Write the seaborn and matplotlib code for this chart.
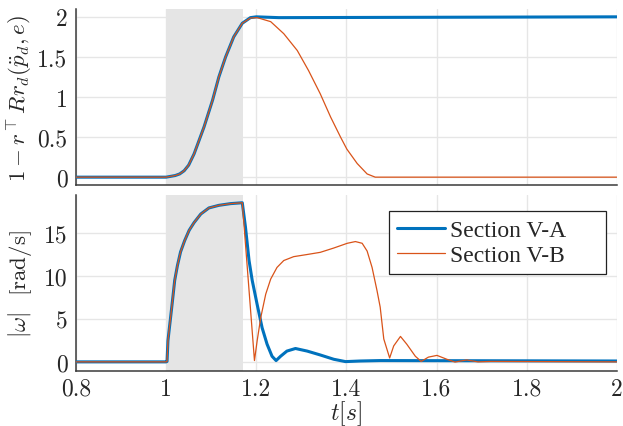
import numpy as np
import pandas as pd
import matplotlib as mpl
from matplotlib import pyplot as plt
import seaborn as sns

# Data
# top panel: 1 - r^T R r_d
top_a_t = [0.8, 1.0, 1.02, 1.03, 1.04, 1.05, 1.062, 1.084, 1.103, 1.117, 1.132, 1.150,
           1.169, 1.187, 1.20, 1.25, 2.0]
top_a_v = [0.0, 0.0, 0.02, 0.04, 0.08, 0.15, 0.29, 0.625, 0.96, 1.25, 1.5, 1.75,
           1.92, 1.99, 2.0, 1.99, 2.0]
top_b_t = [0.8, 1.0, 1.02, 1.03, 1.04, 1.05, 1.062, 1.084, 1.103, 1.117, 1.132, 1.150,
           1.169, 1.187, 1.202, 1.232, 1.261, 1.291, 1.316, 1.342, 1.365, 1.387, 1.401,
           1.424, 1.446, 1.464, 1.48, 2.0]
top_b_v = [0.0, 0.0, 0.02, 0.04, 0.08, 0.15, 0.29, 0.625, 0.96, 1.25, 1.5, 1.75,
           1.92, 1.985, 1.99, 1.94, 1.79, 1.58, 1.33, 1.04, 0.75, 0.5, 0.35,
           0.17, 0.04, 0.0, 0.0, 0.0]

# bottom panel: |omega| [rad/s]
bot_a_t = [0.8, 1.0, 1.002, 1.004, 1.009, 1.014, 1.019, 1.025, 1.032, 1.041, 1.051, 1.062,
           1.077, 1.095, 1.117, 1.143, 1.169, 1.176, 1.184, 1.191, 1.202, 1.213, 1.224,
           1.235, 1.244, 1.254, 1.268, 1.287, 1.313, 1.342, 1.372, 1.398, 1.431, 1.475, 2.0]
bot_a_v = [0.05, 0.05, 0.1, 2.5, 4.8, 7.1, 9.5, 11.2, 12.8, 14.1, 15.3, 16.2,
           17.2, 17.9, 18.2, 18.4, 18.5, 15.7, 11.8, 9.5, 6.7, 4.0, 2.1,
           0.7, 0.2, 0.7, 1.3, 1.6, 1.3, 0.85, 0.35, 0.08, 0.15, 0.2, 0.15]
bot_b_t = [0.8, 1.0, 1.002, 1.004, 1.009, 1.014, 1.019, 1.025, 1.032, 1.041, 1.051, 1.062,
           1.077, 1.095, 1.117, 1.143, 1.169, 1.196, 1.202, 1.210, 1.221, 1.232, 1.246,
           1.261, 1.283, 1.313, 1.342, 1.372, 1.402, 1.420, 1.435, 1.446, 1.457, 1.468,
           1.475, 1.483, 1.496, 1.505, 1.520, 1.534, 1.553, 1.566, 1.582, 1.601, 1.623,
           1.641, 1.667, 1.692, 1.72, 2.0]
bot_b_v = [0.05, 0.05, 0.1, 2.5, 4.8, 7.1, 9.5, 11.2, 12.8, 14.1, 15.3, 16.2,
           17.2, 17.9, 18.2, 18.4, 18.5, 0.2, 2.5, 5.2, 7.9, 9.65, 11.0,
           11.8, 12.25, 12.5, 12.75, 13.25, 13.8, 14.0, 13.8, 12.9, 11.0, 8.3,
           6.4, 2.7, 0.5, 1.9, 3.0, 2.1, 0.7, 0.1, 0.6, 0.8, 0.35,
           0.03, 0.27, 0.05, 0.1, 0.05]

shade_span = [1.0, 1.17]
series_names = ['Section V-A', 'Section V-B']

x_ticks = [0.8, 1.0, 1.2, 1.4, 1.6, 1.8, 2.0]
x_ticklabels = ['0.8', '1', '1.2', '1.4', '1.6', '1.8', '2']
top_yticks = [0, 0.5, 1, 1.5, 2]
top_yticklabels = ['0', '0.5', '1', '1.5', '2']
bot_yticks = [0, 5, 10, 15]
bot_yticklabels = ['0', '5', '10', '15']

# Style
sns.set_style('white')
mpl.rc('font', family='serif', size=17)
mpl.rcParams['font.serif'] = ['cmr10', 'DejaVu Serif']
mpl.rcParams['mathtext.fontset'] = 'cm'
mpl.rcParams['axes.formatter.use_mathtext'] = True

blue = '#0072BD'
orange = '#D95319'
grid_col = '#e6e6e6'
spine_col = '#3a3a3a'

fig = plt.figure(figsize=(6.23, 4.27), dpi=100)
ax_top = fig.add_axes([0.122, 0.564, 0.868, 0.413])
ax_bot = fig.add_axes([0.122, 0.129, 0.868, 0.412])


def style_axis(ax, yticks, yticklabels, ylim, show_xlabels):
    ax.set_xlim(0.8, 2.0)
    ax.set_ylim(*ylim)
    ax.set_xticks(x_ticks)
    if show_xlabels:
        ax.set_xticklabels(x_ticklabels)
    else:
        ax.set_xticklabels([])
    ax.set_yticks(yticks)
    ax.set_yticklabels(yticklabels)
    ax.set_axisbelow(True)
    ax.grid(True, color=grid_col, linewidth=1.0)
    for side in ['top', 'right']:
        ax.spines[side].set_visible(False)
    for side in ['left', 'bottom']:
        ax.spines[side].set_color(spine_col)
        ax.spines[side].set_linewidth(1.1)
    ax.tick_params(axis='x', direction='in', length=4, width=1.0, color=spine_col, pad=5, labelsize=17)
    ax.tick_params(axis='y', length=0, pad=6, labelsize=17)
    ax.axvspan(shade_span[0], shade_span[1], color='#e5e5e5', zorder=1, linewidth=0)


style_axis(ax_top, top_yticks, top_yticklabels, (-0.1, 2.1), False)
style_axis(ax_bot, bot_yticks, bot_yticklabels, (-1.0, 19.4), True)

sns.lineplot(x=top_a_t, y=top_a_v, ax=ax_top, color=blue, linewidth=2.2,
             sort=False, estimator=None, zorder=3)
sns.lineplot(x=top_b_t, y=top_b_v, ax=ax_top, color=orange, linewidth=0.9,
             sort=False, estimator=None, zorder=4)
sns.lineplot(x=bot_a_t, y=bot_a_v, ax=ax_bot, color=blue, linewidth=2.2,
             sort=False, estimator=None, zorder=3, label=series_names[0])
sns.lineplot(x=bot_b_t, y=bot_b_v, ax=ax_bot, color=orange, linewidth=0.9,
             sort=False, estimator=None, zorder=4, label=series_names[1])

ax_top.set_ylabel(r'$1-r^\top Rr_d(\ddot{p}_d,e)$', fontsize=16.5)
ax_bot.set_ylabel(r'$|\omega|$  [rad/s]', fontsize=16.5)
ax_top.yaxis.set_label_coords(-0.078, 0.5)
ax_bot.yaxis.set_label_coords(-0.078, 0.5)
ax_bot.set_xlabel(r'$t[s]$', fontsize=17, labelpad=-1)

# legend box spans a fixed width, handles on the left
leg = ax_bot.legend(loc='upper left', bbox_to_anchor=(0.579, 0.909, 0.401, 0.0), mode='expand',
                    fancybox=False, framealpha=1, edgecolor='#222222',
                    prop={'family': 'Liberation Serif', 'size': 17}, handlelength=2.0,
                    borderpad=0.35, labelspacing=0.15, handletextpad=0.25, borderaxespad=0)
leg.get_frame().set_linewidth(0.9)

plt.savefig('out.png', dpi=100)
plt.close()
